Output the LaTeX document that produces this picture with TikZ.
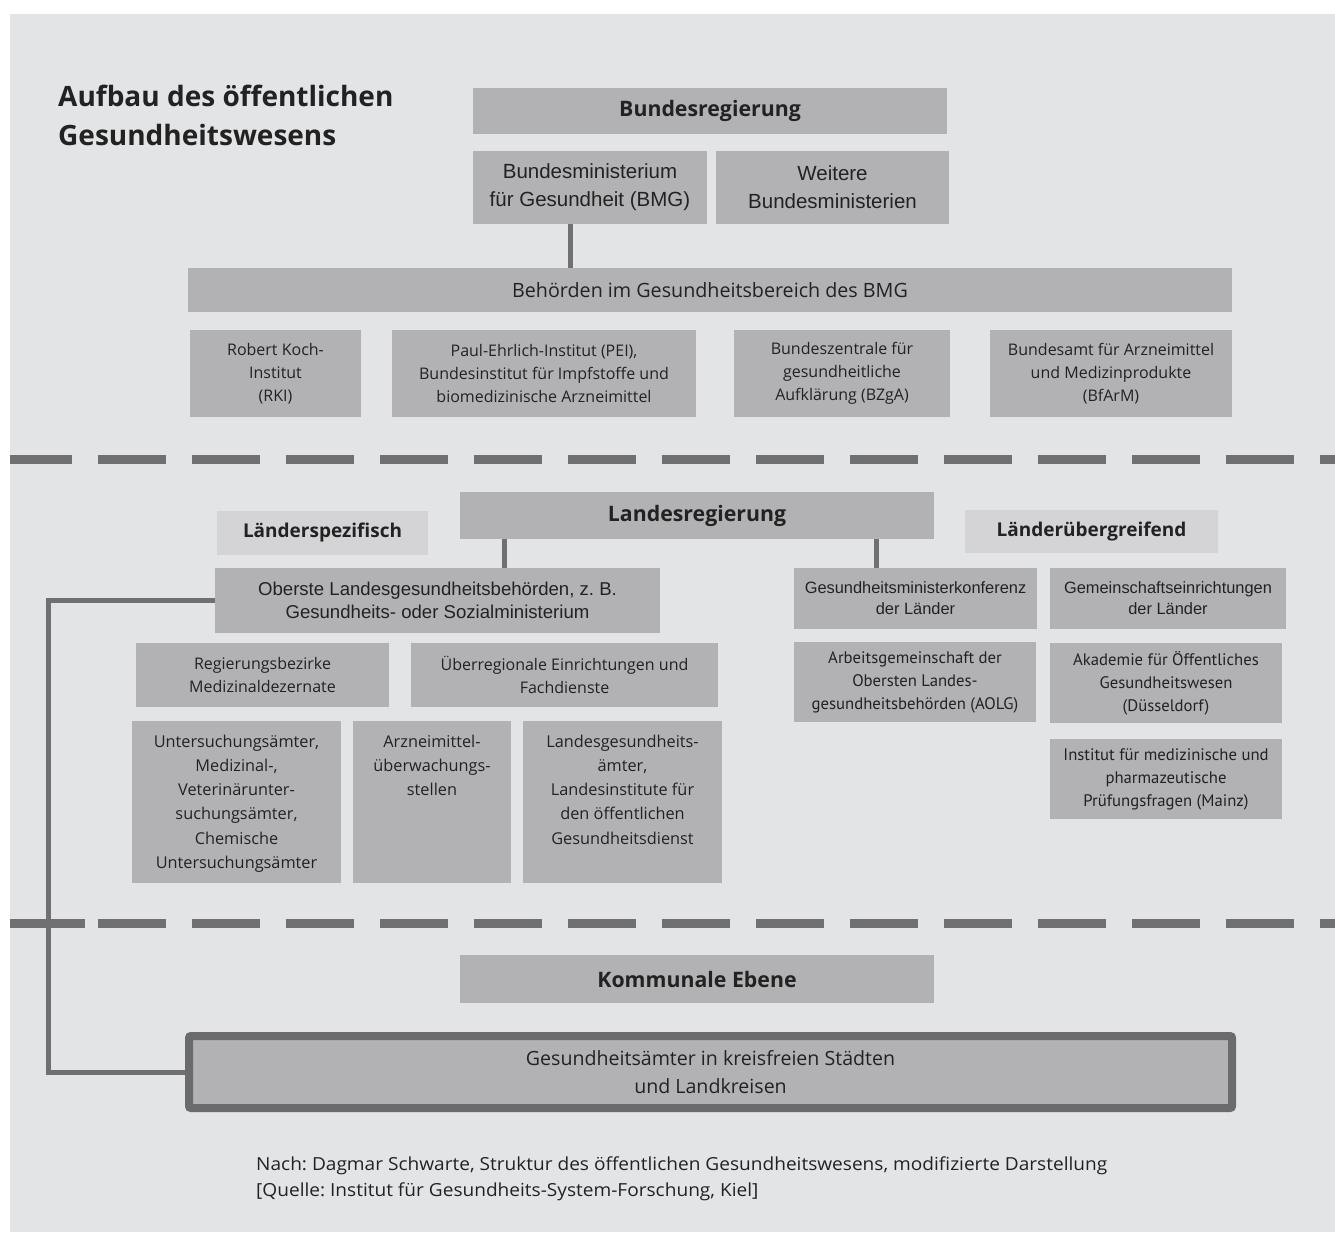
\documentclass[tikz,border=0pt]{standalone}
\usepackage{fontspec}
\setmainfont{PT Sans}
\newfontfamily\arialf{Liberation Sans}
\newfontfamily\opensf{Open Sans}
\newfontfamily\opensw[FakeStretch=1.06]{Open Sans}
\definecolor{bg}{HTML}{E3E4E6}
\definecolor{boxg}{HTML}{B2B2B4}
\definecolor{lightg}{HTML}{D4D4D6}
\definecolor{lineg}{HTML}{707072}
\definecolor{frameg}{HTML}{6B6B6D}
\definecolor{txt}{HTML}{222222}
\frenchspacing
\begin{document}
\begin{tikzpicture}[x=1pt,y=-1pt,
  box/.style={fill=boxg, inner sep=0pt, align=center, text=txt},
  lbox/.style={fill=lightg, inner sep=0pt, align=center, text=txt},
  head/.style={font=\opensf\bfseries\fontsize{21.3}{25}\selectfont},
  lhead/.style={font=\opensf\bfseries\fontsize{19}{24}\selectfont},
  ar/.style={font=\arialf\fontsize{20.5}{28}\selectfont},
  arm/.style={font=\arialf\fontsize{18.6}{23.5}\selectfont},
  ars/.style={font=\arialf\fontsize{16.4}{21}\selectfont},
  sm/.style={font=\opensf\fontsize{16}{22.8}\selectfont},
  smc/.style={font=\fontsize{16.7}{23}\selectfont},
  smt/.style={font=\opensf\fontsize{16.3}{24.2}\selectfont},
  reg/.style={font=\opensf\fontsize{19.7}{28}\selectfont},
  conn/.style={draw=lineg, line width=5pt},
  sep/.style={draw=lineg, line width=9pt, dash pattern=on 68pt off 26pt, dash phase=6pt}
]
\useasboundingbox (0,0) rectangle (1335,1232);
\fill[white] (0,0) rectangle (1335,1232);
\fill[bg] (10,14) rectangle (1335,1232);

% title
\node[anchor=base west, inner sep=0pt, text=txt, font=\opensf\bfseries\fontsize{28}{34}\selectfont] (title1) at (58,106) {Aufbau des öffentlichen};
\node[anchor=base west, inner sep=0pt, text=txt, font=\opensf\bfseries\fontsize{28}{34}\selectfont] (title2) at (58,145) {Gesundheitswesens};

% federal level
\node[box, head, minimum width=474pt, minimum height=46pt] (bund) at (710,111) {Bundesregierung};
\node[box, ar, minimum width=234pt, minimum height=73pt] (bmg) at (590,187.5) {Bundesministerium\\für Gesundheit (BMG)};
\node[box, ar, minimum width=233pt, minimum height=73pt] (weitere) at (832.5,187.5) {Weitere\\Bundesministerien};
\node[box, reg, minimum width=1044pt, minimum height=44pt] (behoerden) at (710,290) {Behörden im Gesundheitsbereich des BMG};
\node[box, sm, minimum width=171pt, minimum height=87pt] (rki) at (275.5,373.5) {Robert Koch-\\Institut\\(RKI)};
\node[box, sm, minimum width=304pt, minimum height=87pt] (pei) at (544,373.5) {Paul-Ehrlich-Institut (PEI),\\Bundesinstitut für Impfstoffe und\\biomedizinische Arzneimittel};
\node[box, sm, minimum width=216pt, minimum height=87pt] (bzga) at (842,373.5) {Bundeszentrale für\\gesundheitliche\\Aufklärung (BZgA)};
\node[box, sm, minimum width=242pt, minimum height=87pt] (bfarm) at (1111,373.5) {Bundesamt für Arzneimittel\\und Medizinprodukte\\(BfArM)};

\draw[conn] ([xshift=-20pt]bmg.south) -- ([xshift=-20pt]bmg.south |- behoerden.north);

\draw[sep] (10,459) -- (1335,459);

% state level
\node[lbox, lhead, minimum width=211pt, minimum height=44pt] (lspez) at (322.5,533) {Länderspezifisch};
\node[box, head, minimum width=474pt, minimum height=47pt] (landes) at (697,515.5) {Landesregierung};
\node[lbox, lhead, minimum width=253pt, minimum height=43pt] (lueber) at (1091.5,531.5) {Länderübergreifend};
\node[box, arm, minimum width=445pt, minimum height=65pt] (oberste) at (437.5,600.5) {Oberste Landesgesundheitsbehörden, z. B.\\Gesundheits- oder Sozialministerium};
\node[box, ars, minimum width=243pt, minimum height=61pt] (gmk) at (915.5,598.5) {Gesundheitsministerkonferenz\\der Länder};
\node[box, ars, minimum width=236pt, minimum height=61pt] (gemein) at (1168,598.5) {Gemeinschaftseinrichtungen\\der Länder};
\node[box, smc, minimum width=242pt, minimum height=80pt] (aolg) at (915,682) {Arbeitsgemeinschaft der\\Obersten Landes-\\gesundheitsbehörden (AOLG)};
\node[box, smc, minimum width=232pt, minimum height=80pt] (akad) at (1166,683) {Akademie für Öffentliches\\Gesundheitswesen\\(Düsseldorf)};
\node[box, smc, minimum width=232pt, minimum height=80pt] (inst) at (1166,779) {Institut für medizinische und\\pharmazeutische\\Prüfungsfragen (Mainz)};
\node[box, sm, minimum width=253pt, minimum height=64pt] (regbez) at (262.5,675) {Regierungsbezirke\\Medizinaldezernate};
\node[box, sm, minimum width=307pt, minimum height=64pt] (ueberreg) at (564.5,675) {Überregionale Einrichtungen und\\Fachdienste};
\node[box, smt, minimum width=209pt, minimum height=162pt] (unters) at (236.5,802) {\begin{minipage}[t][134pt][t]{205pt}\centering Untersuchungsämter,\\Medizinal-,\\Veterinärunter-\\suchungsämter,\\Chemische\\Untersuchungsämter\end{minipage}};
\node[box, smt, minimum width=158pt, minimum height=162pt] (arznei) at (432,802) {\begin{minipage}[t][134pt][t]{155pt}\centering Arzneimittel-\\überwachungs-\\stellen\end{minipage}};
\node[box, smt, minimum width=199pt, minimum height=162pt] (landesges) at (622.5,802) {\begin{minipage}[t][134pt][t]{195pt}\centering Landesgesundheits-\\ämter,\\Landesinstitute für\\den öffentlichen\\Gesundheitsdienst\end{minipage}};

\draw[conn] ([xshift=67pt]oberste.north) -- ([xshift=67pt]oberste.north |- landes.south);
\draw[conn] ([xshift=-39pt]gmk.north) -- ([xshift=-39pt]gmk.north |- landes.south);

\draw[sep] (10,923) -- (1335,923);
\draw[draw=lineg, line width=9pt] (10,923) -- (85,923);

% municipal level
\node[box, head, minimum width=474pt, minimum height=48pt] (komm) at (697,979) {Kommunale Ebene};
\node[box, draw=frameg, line width=8pt, rounded corners=2pt, font=\opensf\fontsize{19.6}{28}\selectfont, minimum width=1043pt, minimum height=72pt] (gsa) at (710.5,1072) {Gesundheitsämter in kreisfreien Städten\\und Landkreisen};

\draw[conn] (oberste.west) -- ++(-166,0) |- (gsa.west);

% source
\node[anchor=base west, inner sep=0pt, text=txt, font=\opensw\fontsize{18}{25}\selectfont] (src1) at (256,1170) {Nach: Dagmar Schwarte, Struktur des öffentlichen Gesundheitswesens, modifizierte Darstellung};
\node[anchor=base west, inner sep=0pt, text=txt, font=\opensw\fontsize{18}{25}\selectfont] (src2) at (256,1196) {[Quelle: Institut für Gesundheits-System-Forschung, Kiel]};
\end{tikzpicture}
\end{document}
